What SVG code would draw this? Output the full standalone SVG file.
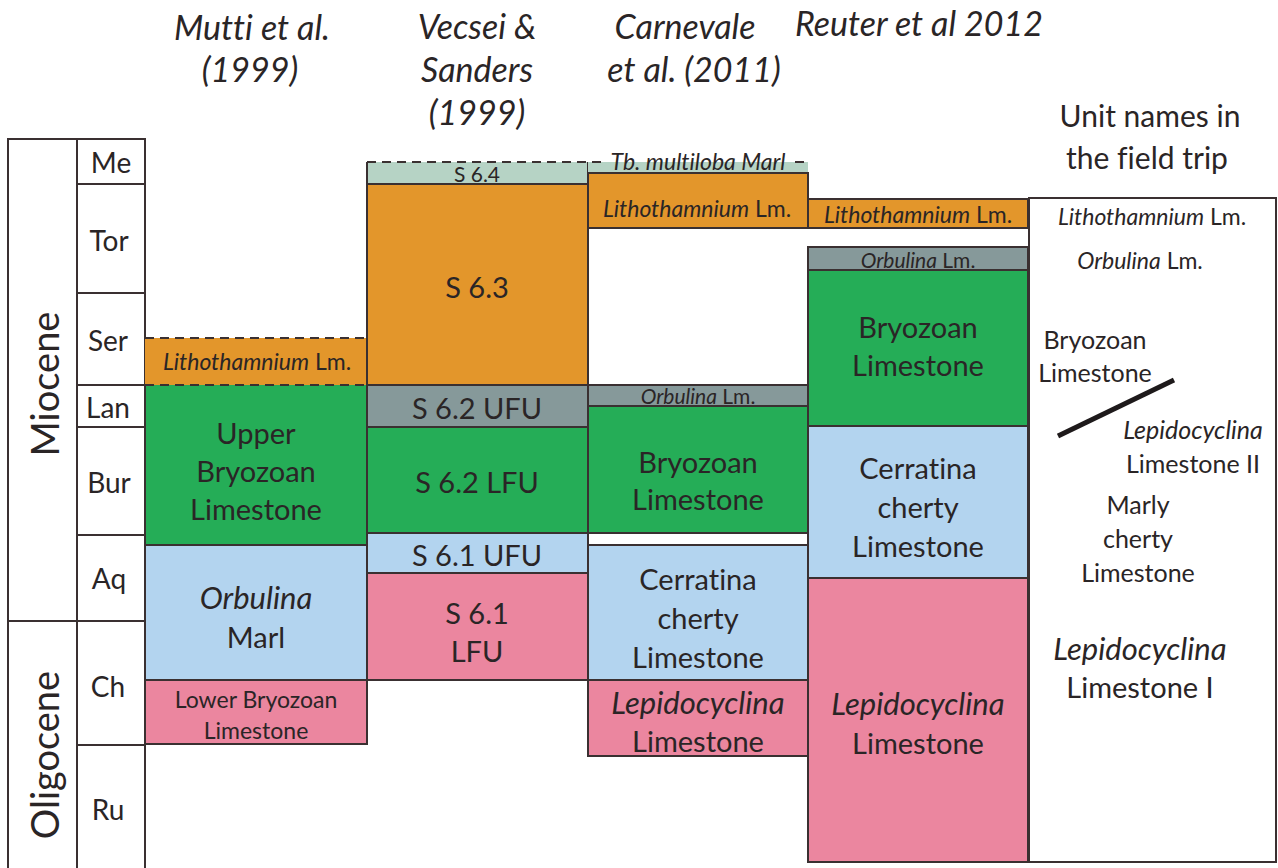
<svg xmlns="http://www.w3.org/2000/svg" width="1278" height="868" viewBox="0 0 1278 868">
<style>
text{font-family:Lato,"Open Sans","Liberation Sans",sans-serif;fill:#2a2526;text-anchor:middle;dominant-baseline:central;font-variant-ligatures:none;font-feature-settings:"liga" 0}
.h{font-size:34px;font-style:italic}
.hn{font-size:30px}
.st{font-size:28px}
.ep{font-size:38px}
.b{font-size:29px}
.bi{font-size:31px;font-style:italic}
.s{font-size:23px}
.xs{font-size:21px}
.i{font-style:italic}
.f{font-size:25px}
.box{stroke:#3a3031;stroke-width:2}
.ln{stroke:#3a3031;stroke-width:2;fill:none}
.dash{stroke:#3a3031;stroke-width:2;stroke-dasharray:9 6;fill:none}
.or{fill:#E3962B}.lg{fill:#B6D3C5}.gy{fill:#86999A}.gr{fill:#25AD57}.bl{fill:#B3D4EF}.pk{fill:#EB869F}
</style>
<rect width="1278" height="868" fill="#fff"/>

<g id="headers">
<text class="h" x="252" y="26">Mutti et al.</text>
<text class="h" x="250" y="68">(1999)</text>
<text class="h" x="477" y="25">Vecsei &amp;</text>
<text class="h" x="477" y="68">Sanders</text>
<text class="h" x="477" y="111">(1999)</text>
<text class="h" x="685" y="25">Carnevale</text>
<text class="h" x="694" y="68">et al. (2011)</text>
<text class="h" x="919" y="22">Reuter et al 2012</text>
<text class="hn" x="1150" y="115">Unit names in</text>
<text class="hn" x="1147" y="157">the field trip</text>
</g>

<g id="timescale">
<rect x="8" y="139" width="137" height="740" fill="#fff" class="box"/>
<line class="ln" x1="77" y1="139" x2="77" y2="868"/>
<line class="ln" x1="77" y1="184" x2="145" y2="184"/>
<line class="ln" x1="77" y1="293" x2="145" y2="293"/>
<line class="ln" x1="77" y1="385" x2="145" y2="385"/>
<line class="ln" x1="77" y1="427" x2="145" y2="427"/>
<line class="ln" x1="77" y1="535" x2="145" y2="535"/>
<line class="ln" x1="8" y1="621" x2="145" y2="621"/>
<line class="ln" x1="77" y1="745" x2="145" y2="745"/>
<text class="st" x="111" y="162">Me</text>
<text class="st" x="109" y="240">Tor</text>
<text class="st" x="108" y="340">Ser</text>
<text class="st" x="108" y="407">Lan</text>
<text class="st" x="109" y="482">Bur</text>
<text class="st" x="109" y="578">Aq</text>
<text class="st" x="108" y="686">Ch</text>
<text class="st" x="108" y="809">Ru</text>
<text class="ep" transform="translate(44 384) rotate(-90)">Miocene</text>
<text class="ep" transform="translate(44 755) rotate(-90)">Oligocene</text>
</g>

<g id="mutti">
<rect class="or" x="145" y="338" width="222" height="47"/>
<line class="dash" x1="145" y1="338" x2="367" y2="338"/>
<text class="s" x="257" y="361"><tspan font-style="italic">Lithothamnium</tspan> Lm.</text>
<rect class="gr" x="145" y="385" width="222" height="160"/>
<line class="ln" x1="145" y1="385" x2="145" y2="545"/>
<line class="ln" x1="367" y1="385" x2="367" y2="545"/>
<line class="dash" x1="145" y1="385" x2="367" y2="385"/>
<text class="b" x="256" y="432">Upper</text>
<text class="b" x="256" y="470">Bryozoan</text>
<text class="b" x="256" y="508">Limestone</text>
<rect class="bl box" x="145" y="545" width="222" height="135"/>
<text class="bi" x="256" y="597">Orbulina</text>
<text class="b" x="256" y="636">Marl</text>
<rect class="pk box" x="145" y="680" width="222" height="64"/>
<text class="s" x="256" y="699">Lower Bryozoan</text>
<text class="s" x="256" y="730">Limestone</text>
</g>

<g id="vecsei">
<rect class="lg" x="367" y="162" width="221" height="22"/>
<line class="ln" x1="367" y1="162" x2="367" y2="184"/>
<line class="ln" x1="588" y1="162" x2="588" y2="184"/>
<text class="xs" x="477" y="173">S 6.4</text>
<rect class="or box" x="367" y="184" width="221" height="201"/>
<text class="b" x="477" y="286">S 6.3</text>
<rect class="gy box" x="367" y="385" width="221" height="42"/>
<text class="b" x="477" y="407">S 6.2 UFU</text>
<rect class="gr box" x="367" y="427" width="221" height="106"/>
<text class="b" x="477" y="481">S 6.2 LFU</text>
<rect class="bl box" x="367" y="533" width="221" height="40"/>
<text class="b" x="477" y="554">S 6.1 UFU</text>
<rect class="pk box" x="367" y="573" width="221" height="107"/>
<text class="b" x="477" y="612">S 6.1</text>
<text class="b" x="477" y="650">LFU</text>
</g>

<g id="carnevale">
<rect class="lg" x="588" y="162" width="220" height="11"/>
<rect class="or box" x="588" y="173" width="220" height="55"/>
<text class="s" x="697" y="208"><tspan font-style="italic">Lithothamnium</tspan> Lm.</text>
<rect class="gy box" x="588" y="385" width="220" height="21"/>
<text class="xs" x="698" y="395"><tspan font-style="italic">Orbulina</tspan> Lm.</text>
<rect class="gr box" x="588" y="406" width="220" height="127"/>
<text class="b" x="698" y="461">Bryozoan</text>
<text class="b" x="698" y="498">Limestone</text>
<rect class="bl box" x="588" y="545" width="220" height="135"/>
<text class="b" x="698" y="578">Cerratina</text>
<text class="b" x="698" y="617">cherty</text>
<text class="b" x="698" y="656">Limestone</text>
<rect class="pk box" x="588" y="680" width="220" height="76"/>
<text class="bi" x="698" y="702">Lepidocyclina</text>
<text class="b" x="698" y="740">Limestone</text>
</g>

<g id="top-boundary">
<line class="dash" x1="367" y1="162" x2="603" y2="162"/>
<line class="dash" x1="795" y1="162" x2="808" y2="162"/>
<text class="s i" x="698" y="161">Tb. multiloba Marl</text>
</g>

<g id="reuter">
<rect class="or box" x="808" y="199" width="220" height="29"/>
<text class="s" x="918" y="214"><tspan font-style="italic">Lithothamnium</tspan> Lm.</text>
<rect class="gy box" x="808" y="247" width="220" height="23"/>
<text class="xs" x="918" y="259"><tspan font-style="italic">Orbulina</tspan> Lm.</text>
<rect class="gr box" x="808" y="270" width="220" height="156"/>
<text class="b" x="918" y="326">Bryozoan</text>
<text class="b" x="918" y="364">Limestone</text>
<rect class="bl box" x="808" y="426" width="220" height="152"/>
<text class="b" x="918" y="467">Cerratina</text>
<text class="b" x="918" y="506">cherty</text>
<text class="b" x="918" y="545">Limestone</text>
<rect class="pk box" x="808" y="578" width="220" height="284"/>
<text class="bi" x="918" y="703">Lepidocyclina</text>
<text class="b" x="918" y="742">Limestone</text>
</g>

<g id="fieldtrip">
<rect x="1029" y="198" width="247" height="664" fill="#fff" class="box"/>
<text class="s" x="1152" y="216"><tspan font-style="italic">Lithothamnium</tspan> Lm.</text>
<text class="s" x="1140" y="260"><tspan font-style="italic">Orbulina</tspan> Lm.</text>
<text class="f" x="1095" y="339">Bryozoan</text>
<text class="f" x="1095" y="372">Limestone</text>
<line x1="1058" y1="436" x2="1174" y2="380" stroke="#1e1a1b" stroke-width="5"/>
<text class="f i" x="1193" y="429">Lepidocyclina</text>
<text class="f" x="1193" y="463">Limestone II</text>
<text class="f" x="1138" y="504">Marly</text>
<text class="f" x="1138" y="538">cherty</text>
<text class="f" x="1138" y="572">Limestone</text>
<text class="bi" x="1140" y="648">Lepidocyclina</text>
<text class="b" x="1140" y="686">Limestone I</text>
</g>
</svg>
